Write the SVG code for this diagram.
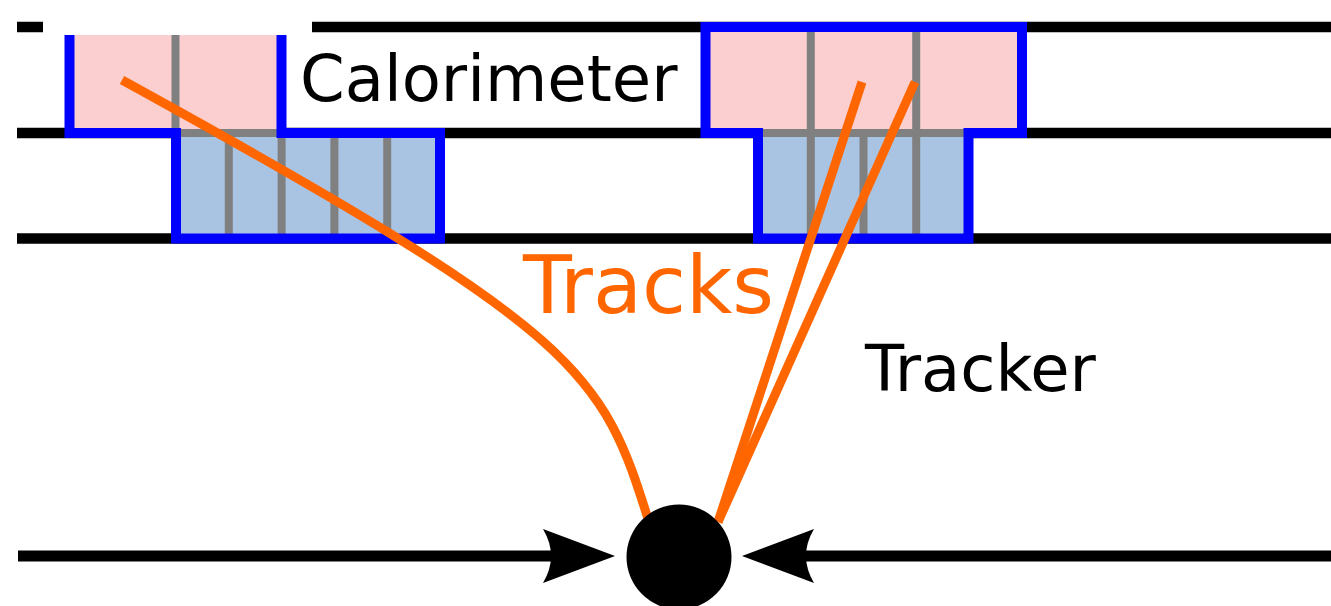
<svg xmlns="http://www.w3.org/2000/svg" width="1331" height="606" viewBox="0 0 1331 606">
  <style>
    .layer { fill: none; stroke: #000; stroke-width: 10.5; }
    .cal { fill: #fbcfd0; stroke: none; }
    .had { fill: #a9c4e3; stroke: none; }
    .cell { fill: none; stroke: #808080; stroke-width: 8; }
    .outline { fill: none; stroke: #0000ff; stroke-width: 10; stroke-linejoin: miter; }
    .track { fill: none; stroke: #ff6600; stroke-width: 9; }
    .beam { fill: none; stroke: #000; stroke-width: 11; }
    .label { font-family: "DejaVu Sans", "Liberation Sans", sans-serif; fill: #000; }
  </style>
  <defs>
    <marker id="arrowhead" markerUnits="userSpaceOnUse" viewBox="-20 -30 80 60" refX="0" refY="0" markerWidth="80" markerHeight="60" orient="auto">
      <path d="M55,0 L-17,-27 Q-1,0 -17,27 Z" fill="#000"/>
    </marker>
  </defs>

  <rect width="1331" height="606" fill="#fff"/>

  <!-- detector layer boundaries -->
  <g id="layers">
    <line class="layer" x1="17" y1="27" x2="1331" y2="27"/>
    <line class="layer" x1="17" y1="133" x2="1331" y2="133"/>
    <line class="layer" x1="17" y1="238.5" x2="1331" y2="238.5"/>
  </g>

  <!-- left cluster: calorimeter cells over hadronic cells -->
  <g id="cluster-left">
    <rect class="cal" x="69.5" y="27" width="212" height="106"/>
    <rect class="had" x="176" y="133" width="264" height="105.5"/>
    <path class="cell" d="M175.5,27 V133 M176,133 H281.5 M228.8,133 V238.5 M281.6,133 V238.5 M334.4,133 V238.5 M387.2,133 V238.5"/>
    <path class="outline" d="M69.5,27 V133 H176 V238.5 H440 V133 H281.5 V27 Z"/>
  </g>

  <!-- right cluster -->
  <g id="cluster-right">
    <rect class="cal" x="705.5" y="27" width="316.5" height="106"/>
    <rect class="had" x="758" y="133" width="210.5" height="105.5"/>
    <path class="cell" d="M810.8,27 V238.5 M916.2,27 V238.5 M863.5,133 V238.5 M758,133 H968.5"/>
    <path class="outline" d="M705.5,27 H1022 V133 H968.5 V238.5 H758 V133 H705.5 Z"/>
  </g>

  <!-- blank band across the top-left corner -->
  <rect id="mask" x="43" y="0" width="269" height="35" fill="#fff"/>

  <g id="connectors">
    <!-- charged tracks from the vertex -->
    <path class="track" d="M122,80 C586,335 602,372 649,522"/>
    <path class="track" d="M718,522 L862,82"/>
    <path class="track" d="M718,522 L915,82"/>
    <!-- incoming beams -->
    <path class="beam" d="M18,556 H560" marker-end="url(#arrowhead)"/>
    <path class="beam" d="M1331,556 H797" marker-end="url(#arrowhead)"/>
  </g>

  <g id="vertex">
    <circle cx="679" cy="557" r="52.5" fill="#000"/>
  </g>

  <g id="labels">
    <text class="label" x="300" y="101" font-size="64">Calorimeter</text>
    <text class="label" x="523" y="313" font-size="80" style="fill:#ff6600">Tracks</text>
    <text class="label" x="865" y="391" font-size="64">Tracker</text>
  </g>
</svg>
